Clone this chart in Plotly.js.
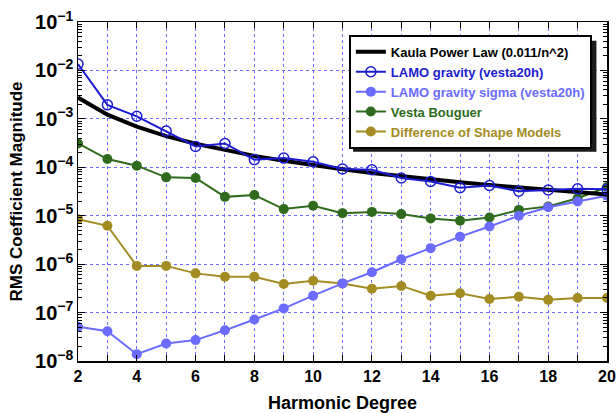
<!DOCTYPE html>
<html><head><meta charset="utf-8">
<script src="https://cdn.plot.ly/plotly-3.0.1.min.js"></script>
<style>html,body{margin:0;padding:0;background:#fff}#chart{width:616px;height:413px}</style>
</head><body><div id="chart"></div>
<script>
const degrees = [2,3,4,5,6,7,8,9,10,11,12,13,14,15,16,17,18,19,20];
const kaula = [2.75e-3,1.22e-3,6.9e-4,4.4e-4,3.06e-4,2.24e-4,1.72e-4,1.36e-4,1.1e-4,9.1e-5,7.6e-5,6.5e-5,5.6e-5,4.9e-5,4.3e-5,3.8e-5,3.4e-5,3.05e-5,2.75e-5];
const lamoGravity = [1.35e-2,1.95e-3,1.13e-3,5.6e-4,2.7e-4,3.1e-4,1.44e-4,1.55e-4,1.3e-4,9.2e-5,8.9e-5,6.0e-5,5.1e-5,3.8e-5,4.2e-5,3.2e-5,3.4e-5,3.6e-5,3.5e-5];
const lamoSigma = [5.1e-8,4.1e-8,1.38e-8,2.3e-8,2.7e-8,4.3e-8,7.2e-8,1.22e-7,2.23e-7,4.0e-7,6.8e-7,1.26e-6,2.14e-6,3.7e-6,5.97e-6,1.0e-5,1.5e-5,1.97e-5,2.6e-5];
const bouguer = [3.1e-4,1.48e-4,1.08e-4,6.2e-5,6.0e-5,2.45e-5,2.68e-5,1.37e-5,1.6e-5,1.13e-5,1.2e-5,1.08e-5,8.75e-6,7.9e-6,9.2e-6,1.32e-5,1.55e-5,2.3e-5,3.9e-5];
const shapeDiff = [8.5e-6,6.2e-6,9.2e-7,9.2e-7,6.45e-7,5.5e-7,5.5e-7,3.9e-7,4.55e-7,4.0e-7,3.1e-7,3.55e-7,2.23e-7,2.5e-7,1.9e-7,2.13e-7,1.83e-7,2.0e-7,2.0e-7];
const names = ['Kaula Power Law (0.011/n^2)','LAMO gravity (vesta20h)','LAMO gravity sigma (vesta20h)','Vesta Bouguer','Difference of Shape Models'];
const colors = ['#000000','#1c1cd0','#6b6bff','#2f6b1c','#a38d22'];

const lab = (i) => '<span style="color:' + colors[i] + '">' + names[i] + '</span>';
const traces = [
  {x: degrees, y: kaula, mode: 'lines', name: lab(0), legendrank: 1, line: {color: colors[0], width: 4}},
  {x: degrees, y: lamoGravity, mode: 'lines+markers', name: lab(1), legendrank: 2, line: {color: colors[1], width: 2},
   marker: {symbol: 'circle-open', size: 10, color: colors[1], line: {width: 1.5, color: colors[1]}}},
  {x: degrees, y: lamoSigma, mode: 'lines+markers', name: lab(2), legendrank: 3, line: {color: colors[2], width: 2},
   marker: {symbol: 'circle', size: 10, color: colors[2]}},
  {x: degrees, y: bouguer, mode: 'lines+markers', name: lab(3), legendrank: 4, line: {color: colors[3], width: 2},
   marker: {symbol: 'circle', size: 10, color: colors[3]}},
  {x: degrees, y: shapeDiff, mode: 'lines+markers', name: lab(4), legendrank: 5, line: {color: colors[4], width: 2},
   marker: {symbol: 'circle', size: 10, color: colors[4]}}
];
const gridStyle = {gridcolor: '#6b6bff', griddash: 'dot', gridwidth: 1};
const layout = {
  width: 616, height: 413,
  margin: {l: 78, r: 9, t: 22, b: 52},
  paper_bgcolor: '#ffffff', plot_bgcolor: '#ffffff',
  font: {family: 'Liberation Sans, Arial, sans-serif', color: '#000'},
  showlegend: true,
  legend: {x: 0.512, y: 0.962, xanchor: 'left', yanchor: 'top', bgcolor: '#ffffff',
    bordercolor: '#000', borderwidth: 2, font: {size: 13, weight: 'bold'}, tracegroupgap: 0,
    traceorder: 'normal'},
  xaxis: {range: [2, 20], dtick: 2, tick0: 2, showline: true, linecolor: '#000', linewidth: 1.5, mirror: 'ticks',
    ticks: 'inside', ticklen: 6, tickcolor: '#000', showgrid: true, ...gridStyle, zeroline: false,
    tickfont: {size: 16, weight: 'bold'},
    minor: {dtick: 1, ticks: 'inside', ticklen: 6, tickcolor: '#000', showgrid: true, gridcolor: '#6b6bff', griddash: 'dot', gridwidth: 1},
    title: {text: 'Harmonic Degree', font: {size: 18, weight: 'bold'}, standoff: 12}},
  yaxis: {type: 'log', range: [-8, -1], dtick: 1, exponentformat: 'power', showline: true, linecolor: '#000', linewidth: 1.5,
    mirror: 'ticks', ticks: 'inside', ticklen: 7, tickcolor: '#000', showgrid: true, ...gridStyle, zeroline: false,
    tickfont: {size: 16, weight: 'bold'},
    minor: {dtick: 'D1', ticks: 'inside', ticklen: 4, tickcolor: '#000', showgrid: false},
    title: {text: 'RMS Coefficient Magnitude', font: {size: 17, weight: 'bold'}, standoff: 8}},
  shapes: [{type: 'rect', xref: 'paper', yref: 'paper', x0: 0.52, x1: 0.98, y0: 0.617, y1: 0.945,
    fillcolor: '#1a1a1a', line: {width: 0}, layer: 'above'}]
};
Plotly.newPlot('chart', [traces[4], traces[3], traces[2], traces[0], traces[1]], layout, {displayModeBar: false, staticPlot: true});
</script></body></html>
